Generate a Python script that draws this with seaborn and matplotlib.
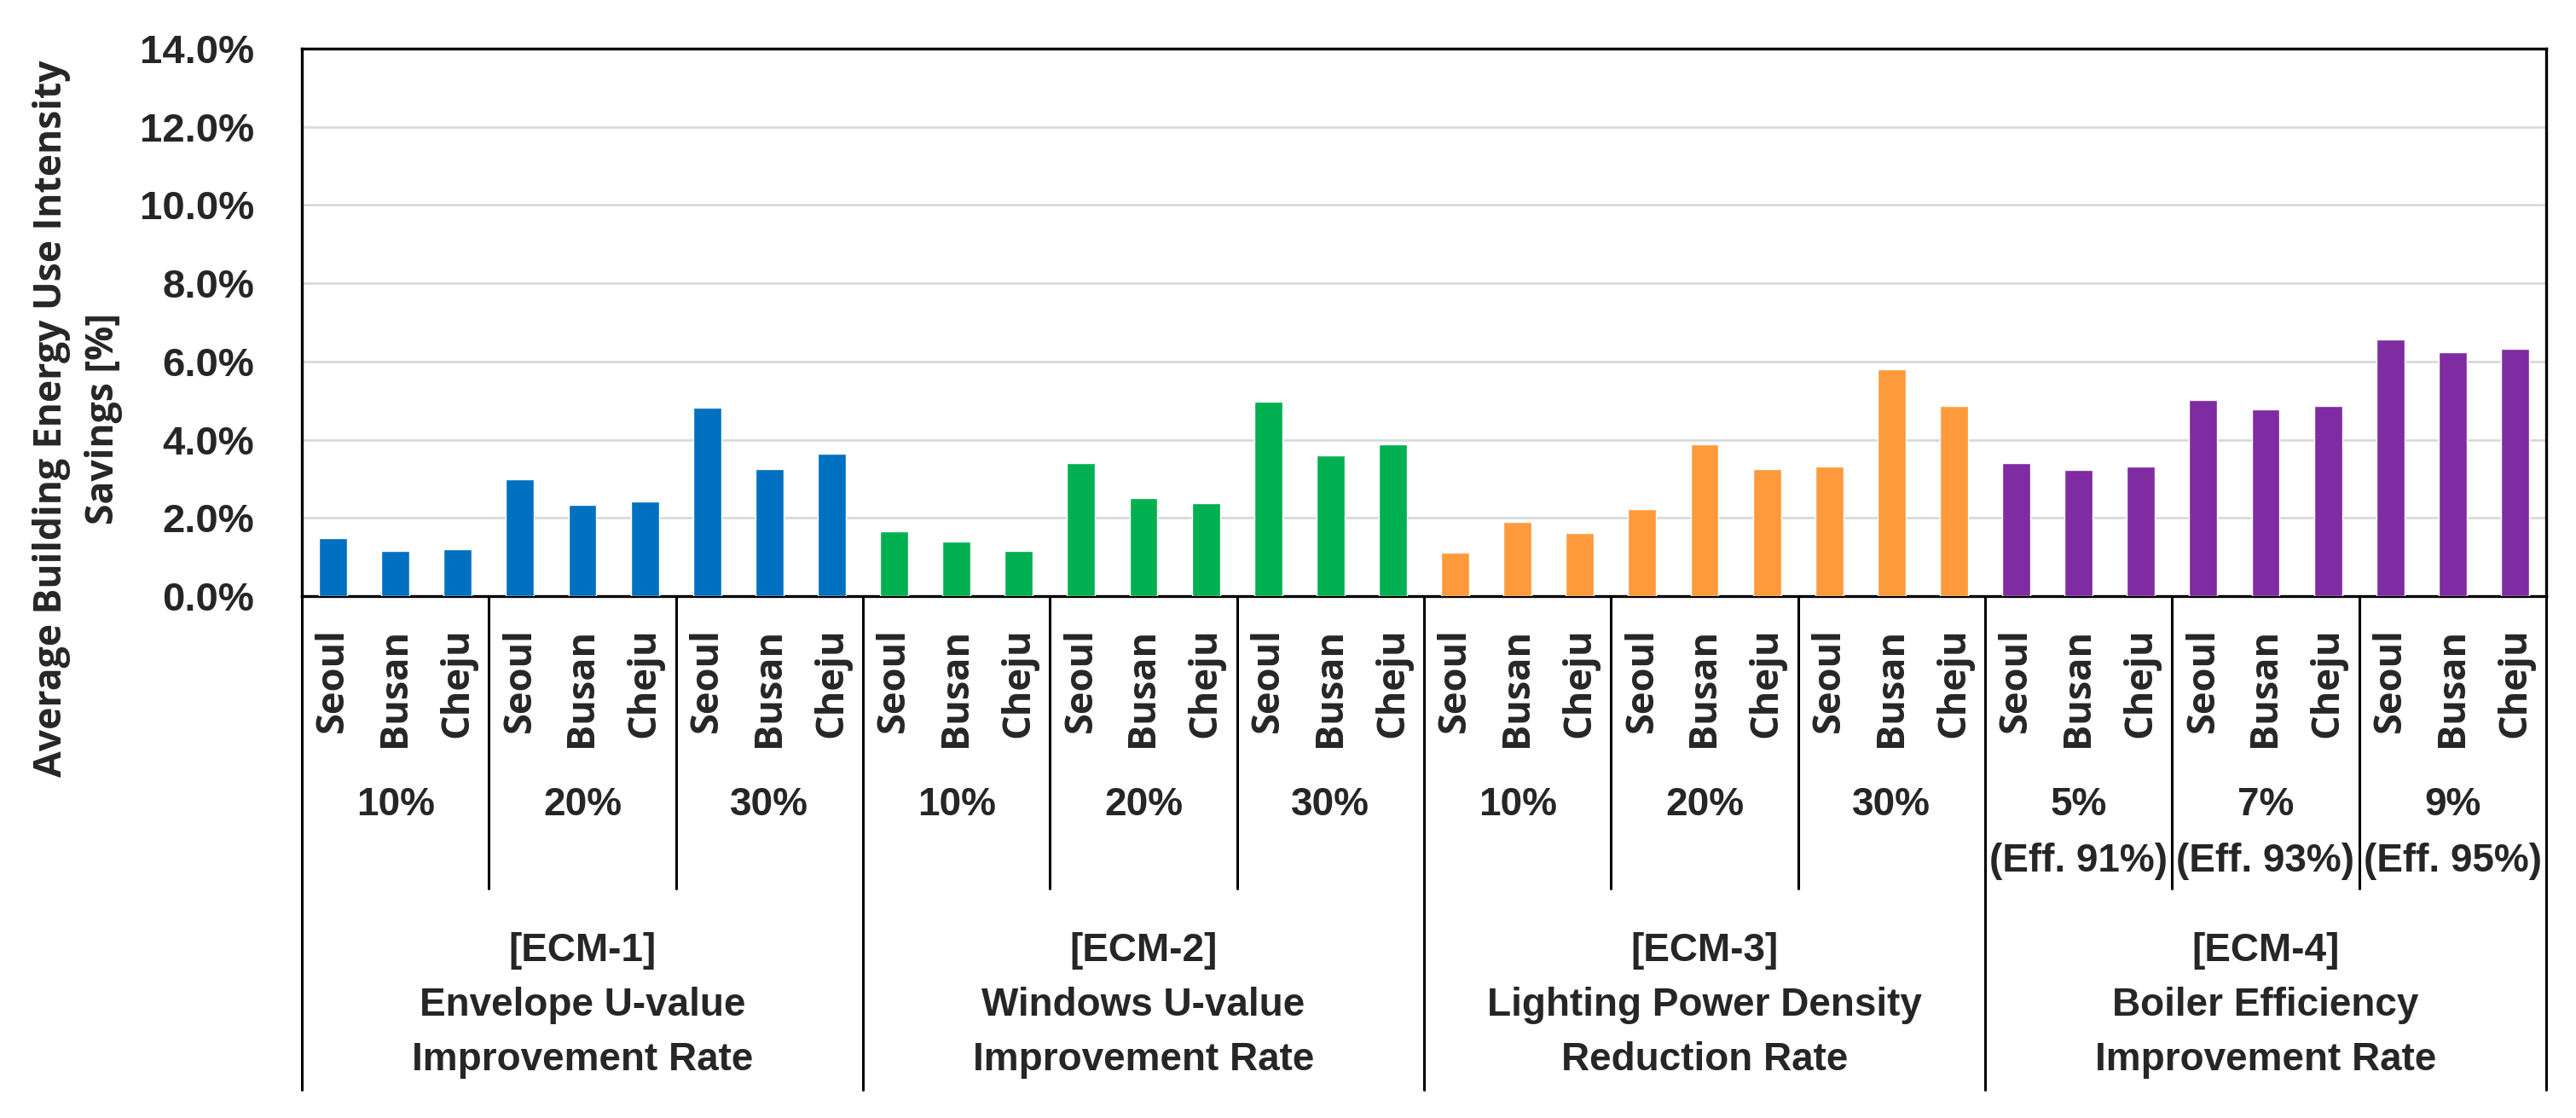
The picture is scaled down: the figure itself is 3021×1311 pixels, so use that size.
import matplotlib
matplotlib.use("Agg")
import matplotlib.pyplot as plt
import matplotlib.transforms as mtransforms
import pandas as pd
import seaborn as sns

# --- Data ---
cities = ["Seoul", "Busan", "Cheju"]
ecm_names = ["ECM-1", "ECM-2", "ECM-3", "ECM-4"]
ecm_titles = [
    "[ECM-1]\nEnvelope U-value\nImprovement Rate",
    "[ECM-2]\nWindows U-value\nImprovement Rate",
    "[ECM-3]\nLighting Power Density\nReduction Rate",
    "[ECM-4]\nBoiler Efficiency\nImprovement Rate",
]
level_labels = [
    ["10%", "20%", "30%"],
    ["10%", "20%", "30%"],
    ["10%", "20%", "30%"],
    ["5%\n(Eff. 91%)", "7%\n(Eff. 93%)", "9%\n(Eff. 95%)"],
]
# savings [%], per ECM, per level, Seoul/Busan/Cheju
ecm1 = [1.48, 1.15, 1.20, 2.98, 2.33, 2.42, 4.82, 3.26, 3.64]
ecm2 = [1.66, 1.39, 1.15, 3.41, 2.51, 2.37, 4.97, 3.60, 3.88]
ecm3 = [1.11, 1.90, 1.62, 2.23, 3.88, 3.26, 3.31, 5.81, 4.86]
ecm4 = [3.41, 3.22, 3.31, 5.02, 4.78, 4.86, 6.56, 6.24, 6.32]
colors = ["#0070C0", "#00B050", "#FF9A3C", "#7F2BA2"]

# --- Build long table ---
rows = []
for ecm, vals, levels in zip(ecm_names, [ecm1, ecm2, ecm3, ecm4], level_labels):
    for i, v in enumerate(vals):
        lev = levels[i // 3]
        city = cities[i % 3]
        rows.append({"bar": f"{ecm}|{lev}|{city}", "ECM": ecm, "City": city, "Savings": v})
df = pd.DataFrame(rows)

sns.set_theme(style="white")
plt.rcParams["font.family"] = ["Liberation Sans", "DejaVu Sans"]
plt.rcParams["font.weight"] = "bold"

W, H = 3021, 1311
fig = plt.figure(figsize=(W / 100, H / 100), dpi=100)
ax_left, ax_right, ax_top, ax_bottom = 354, 2986, 57, 699
ax = fig.add_axes([ax_left / W, 1 - ax_bottom / H,
                   (ax_right - ax_left) / W, (ax_bottom - ax_top) / H])

sns.barplot(data=df, x="bar", y="Savings", hue="ECM", palette=colors,
            dodge=False, width=0.45, legend=False, saturation=1, ax=ax, zorder=3)

n = len(df)
ax.set_xlim(-0.5, n - 0.5)
ax.set_ylim(0, 14)
ax.set_yticks(range(0, 15, 2))
ax.set_yticklabels([f"{v:.1f}%" for v in range(0, 15, 2)], fontsize=34, fontweight="bold")
ax.yaxis.grid(True, color="#D9D9D9", linewidth=2, zorder=0)
ax.set_axisbelow(True)
ax.tick_params(axis="y", length=0, pad=40)

ax.set_xticks(range(n))
ax.set_xticklabels(df["City"], rotation=90, fontsize=32.5, fontweight="bold",
                   family=["Open Sans", "DejaVu Sans"])
ax.tick_params(axis="x", length=0, pad=27)
ax.set_xlabel("")
ax.set_ylabel("")

for sp in ax.spines.values():
    sp.set_visible(True)
    sp.set_color("black")
    sp.set_linewidth(2.4)


def ay(px):
    # pixel row of the figure -> axes fraction
    return (ax_bottom - px) / (ax_bottom - ax_top)


trans = mtransforms.blended_transform_factory(ax.transData, ax.transAxes)

# divider lines below the axis
for k in range(13):
    x = -0.5 + 3 * k
    low = 1278 if k % 3 == 0 else 1042
    ax.plot([x, x], [0, ay(low)], color="black", lw=2.2, transform=trans, clip_on=False)

# level labels
for e, levels in enumerate(level_labels):
    for j, lab in enumerate(levels):
        xc = 9 * e + 3 * j + 1
        for li, line in enumerate(lab.split("\n")):
            ax.text(xc, ay(944 + 66 * li), line, transform=trans, ha="center", va="center",
                    fontsize=33, fontweight="bold")

# ECM titles
for e, title in enumerate(ecm_titles):
    xc = 9 * e + 4
    for li, line in enumerate(title.split("\n")):
        ax.text(xc, ay(1115 + 64 * li), line, transform=trans, ha="center", va="center",
                fontsize=33, fontweight="bold")

fig.text(91 / W, 1 - 491 / H, "Average Building Energy Use Intensity\nSavings [%]",
         rotation=90, ha="center", va="center", multialignment="center",
         fontsize=32, fontweight="bold", family=["Open Sans", "DejaVu Sans"],
         linespacing=1.46)

fig.savefig("out.png", dpi=100)
plt.close(fig)
